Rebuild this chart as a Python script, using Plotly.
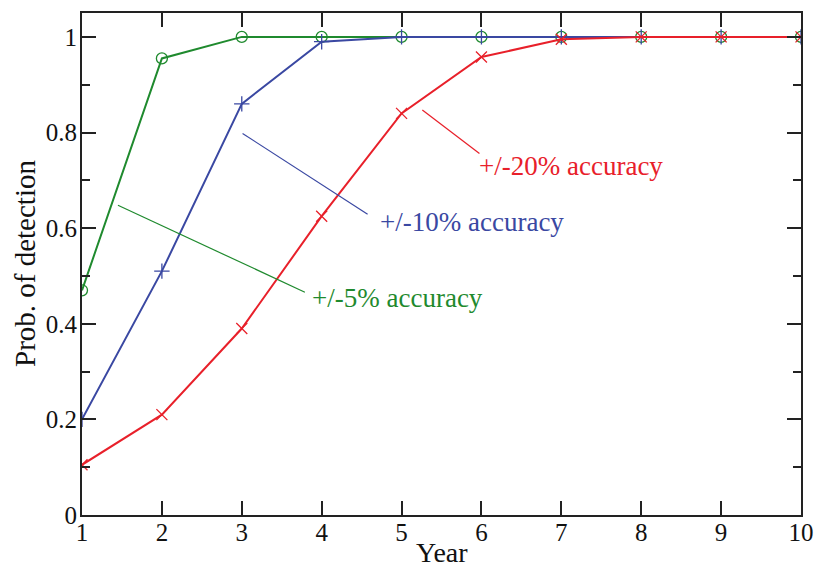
import plotly.graph_objects as go

years = list(range(1, 11))
acc5 = [0.47, 0.955, 1.0, 1.0, 1.0, 1.0, 1.0, 1.0, 1.0, 1.0]
acc10 = [0.2, 0.51, 0.86, 0.99, 1.0, 1.0, 1.0, 1.0, 1.0, 1.0]
acc20 = [0.105, 0.21, 0.39, 0.625, 0.84, 0.958, 0.995, 1.0, 1.0, 1.0]
labels = ["+/-5% accuracy", "+/-10% accuracy", "+/-20% accuracy"]

GREEN = "#1f8a2e"
BLUE = "#3a48a2"
RED = "#e8202a"
FONT = "Liberation Serif"

fig = go.Figure()
series = [(acc5, GREEN, "circle-open"), (acc10, BLUE, "cross-thin-open"), (acc20, RED, "x-thin-open")]
for vals, col, sym in series:
    fig.add_trace(go.Scatter(
        x=years, y=vals, mode="lines+markers",
        line=dict(color=col, width=2),
        marker=dict(symbol=sym, size=11, color=col, line=dict(color=col, width=1.3)),
        showlegend=False))

# label leader lines and texts (data coordinates)
leaders = [
    (1.45, 0.648, 3.79, 0.466, GREEN, 3.85, 0.453, labels[0]),
    (3.01, 0.798, 4.575, 0.629, BLUE, 4.70, 0.612, labels[1]),
    (5.26, 0.847, 5.975, 0.756, RED, 5.95, 0.731, labels[2]),
]
for x0, y0, x1, y1, col, tx, ty, txt in leaders:
    fig.add_shape(type="line", x0=x0, y0=y0, x1=x1, y1=y1, xref="x", yref="y",
                  line=dict(color=col, width=1.2))
    fig.add_annotation(x=tx, y=ty, xref="x", yref="y", text=txt, showarrow=False,
                       xanchor="left", yanchor="middle",
                       font=dict(family=FONT, size=27, color=col))

# axis titles
fig.add_annotation(x=0.5, y=0, xref="paper", yref="paper", yshift=-37,
                   text="Year", showarrow=False, xanchor="center", yanchor="middle",
                   borderpad=0, font=dict(family=FONT, size=28, color="#111"))
fig.add_annotation(x=0, y=0.5, xref="paper", yref="paper", xshift=-57,
                   text="Prob. of detection", showarrow=False, textangle=-90,
                   xanchor="center", yanchor="middle",
                   font=dict(family=FONT, size=29, color="#111"))

axis_common = dict(showgrid=False, zeroline=False, showline=True, linecolor="#222",
                   linewidth=2, mirror="ticks", ticks="inside", tickcolor="#222",
                   tickwidth=1.5, automargin=False,
                   tickfont=dict(family=FONT, size=25, color="#111"))

fig.update_xaxes(range=[1, 10], tickvals=years, ticklen=14, ticklabelstandoff=-6,
                 **axis_common)
fig.update_yaxes(range=[0, 1.05], tickvals=[0, 0.2, 0.4, 0.6, 0.8, 1.0],
                 ticktext=["0", "0.2", "0.4", "0.6", "0.8", "1"], ticklen=14, ticklabelstandoff=-2,
                 minor=dict(tickvals=[0.1, 0.3, 0.5, 0.7, 0.9], ticks="inside", ticklen=8,
                            tickcolor="#222", tickwidth=1.5, showgrid=False),
                 **axis_common)

fig.update_layout(width=814, height=568, margin=dict(l=82, r=13, t=13, b=53),
                  plot_bgcolor="white", paper_bgcolor="white",
                  font=dict(family=FONT))

fig.write_html("out.html")
